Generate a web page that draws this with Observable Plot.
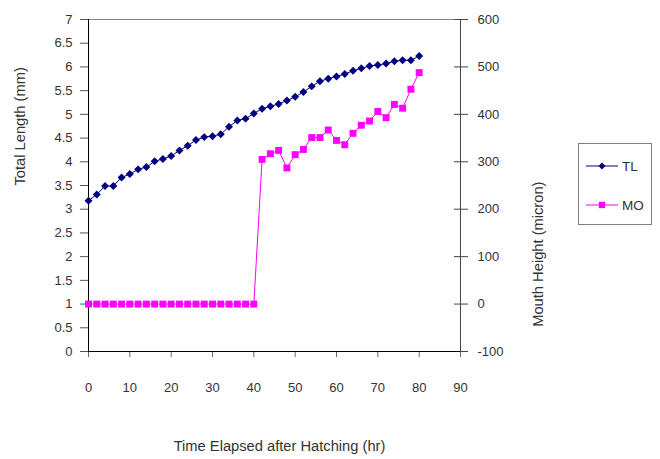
<!DOCTYPE html>
<html>
<head>
<meta charset="utf-8">
<script src="https://cdn.jsdelivr.net/npm/d3@7"></script>
<script src="https://cdn.jsdelivr.net/npm/@observablehq/plot@0.6"></script>
<style>
  body { margin: 0; background: #fff; }
  #wrap { position: relative; width: 660px; height: 459px; font-family: "Liberation Sans", Arial, sans-serif; }
  #legend { position: absolute; left: 578px; top: 143px; width: 72px; height: 80px; border: 1px solid #808080; background: #fff; font-size: 13.5px; color: #333; }
  .item { position: absolute; left: 7px; height: 16px; display: flex; align-items: center; }
  .item span { margin-left: 4px; }
</style>
</head>
<body>
<div id="wrap"></div>
<script>
const hours = [0,2,4,6,8,10,12,14,16,18,20,22,24,26,28,30,32,34,36,38,40,42,44,46,48,50,52,54,56,58,60,62,64,66,68,70,72,74,76,78,80];
const totalLength = [3.18,3.31,3.49,3.49,3.67,3.74,3.84,3.89,4.01,4.06,4.12,4.24,4.34,4.46,4.52,4.54,4.58,4.74,4.87,4.91,5.02,5.12,5.17,5.22,5.29,5.37,5.47,5.59,5.70,5.75,5.80,5.85,5.92,5.97,6.02,6.04,6.07,6.12,6.14,6.14,6.23];
const mouthHeight = [0,0,0,0,0,0,0,0,0,0,0,0,0,0,0,0,0,0,0,0,0,305,317,324,287,315,326,351,351,367,345,336,360,377,386,406,393,421,413,453,488];
const xTicks = [0,10,20,30,40,50,60,70,80,90];
const leftTicks = [0,0.5,1,1.5,2,2.5,3,3.5,4,4.5,5,5.5,6,6.5,7];
const rightTickLabels = ["-100","0","100","200","300","400","500","600"];
const rightTickPos = [0,1,2,3,4,5,6,7];
const seriesNames = ["TL","MO"];
const colors = ["#000080","#ff00ff"];

const data = hours.map((h,i) => ({h, tl: totalLength[i], mo: mouthHeight[i]}));
const moY = d => d.mo / 100 + 1; // right axis mapped onto left scale

const chart = Plot.plot({
  width: 660,
  height: 459,
  marginLeft: 88,
  marginRight: 200,
  marginTop: 19,
  marginBottom: 108,
  x: {domain: [0, 90]},
  y: {domain: [0, 7]},
  style: {fontFamily: "'Liberation Sans', Arial, sans-serif", fontSize: "13px", color: "#333", background: "#fff"},
  marks: [
    Plot.ruleY([7], {stroke: "#888", strokeWidth: 1}),
    Plot.axisX({ticks: xTicks, tickSize: 6, tickPadding: 25, label: null, stroke: "#666", fill: "#333"}),
    Plot.axisY({anchor: "left", ticks: leftTicks, tickSize: 8, tickPadding: 8, tickFormat: d => String(d), label: null, stroke: "#555", fill: "#333"}),
    Plot.axisY({anchor: "right", ticks: rightTickPos, tickSize: 14, dx: -7, tickFormat: () => "", label: null, stroke: "#444"}),
    Plot.axisY({anchor: "right", ticks: rightTickPos, tickSize: 0, tickPadding: 17, tickFormat: (d, i) => rightTickLabels[i], label: null, fill: "#333"}),
    Plot.ruleX([0], {stroke: "#000"}),
    Plot.ruleX([90], {stroke: "#444"}),
    Plot.ruleY([0], {stroke: "#000"}),
    Plot.text(["Total Length (mm)"], {frameAnchor: "left", rotate: -90, dx: -68, fontSize: 14.7, fill: "#333"}),
    Plot.text(["Mouth Height (micron)"], {frameAnchor: "right", rotate: -90, dx: 78, dy: -4, fontSize: 14.7, fill: "#333"}),
    Plot.text(["Time Elapsed after Hatching (hr)"], {frameAnchor: "bottom", dx: 5, dy: 99, fontSize: 14.7, fill: "#333"}),
    Plot.line(data, {x: "h", y: "tl", stroke: colors[0], strokeWidth: 1}),
    Plot.dot(data, {x: "h", y: "tl", symbol: "diamond2", r: 3.6, fill: colors[0], stroke: "none"}),
    Plot.line(data, {x: "h", y: moY, stroke: colors[1], strokeWidth: 1}),
    Plot.dot(data, {x: "h", y: moY, symbol: "square", r: 3.9, fill: colors[1], stroke: "none"})
  ]
});
const wrap = document.getElementById("wrap");
wrap.appendChild(chart);

// legend
const legend = document.createElement("div");
legend.id = "legend";
const symbols = [d3.symbolDiamond2, d3.symbolSquare];
const sizes = [30, 40];
seriesNames.forEach((name, i) => {
  const item = document.createElement("div");
  item.className = "item";
  item.style.top = (i === 0 ? 14 : 53) + "px";
  const svg = d3.create("svg").attr("width", 32).attr("height", 16);
  svg.append("line").attr("x1", 0).attr("x2", 32).attr("y1", 8).attr("y2", 8).attr("stroke", colors[i]).attr("stroke-width", 1);
  svg.append("path").attr("d", d3.symbol(symbols[i], sizes[i])()).attr("transform", "translate(16,8)").attr("fill", colors[i]);
  item.appendChild(svg.node());
  const span = document.createElement("span");
  span.textContent = name;
  item.appendChild(span);
  legend.appendChild(item);
});
wrap.appendChild(legend);
</script>
</body>
</html>
